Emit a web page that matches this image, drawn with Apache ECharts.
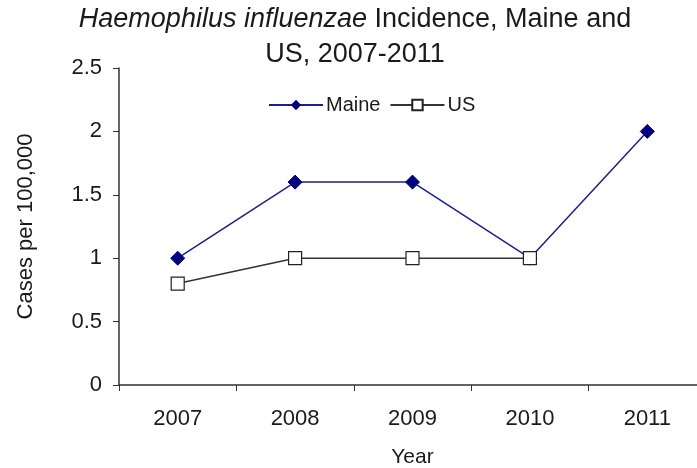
<!DOCTYPE html>
<html>
<head>
<meta charset="utf-8">
<script src="https://cdn.jsdelivr.net/npm/echarts@6/dist/echarts.min.js"></script>
<style>html,body{margin:0;padding:0;background:#fff}#chart{width:697px;height:468px}</style>
</head>
<body>
<div id="chart"></div>
<script>
// Haemophilus influenzae incidence, Maine vs US
// (plot runs past the right edge of the window, as in the original)
var years = ['2007', '2008', '2009', '2010', '2011'];
var maine = [1, 1.6, 1.6, 1, 2];
var us = [0.8, 1, 1, 1, null];

var chart = echarts.init(document.getElementById('chart'));
var option = {
    backgroundColor: '#fff',
    textStyle: {fontFamily: 'Liberation Sans, Arial, sans-serif'},
    title: {
        text: '{i|Haemophilus influenzae} Incidence, Maine and\nUS, 2007-2011',
        left: 350,
        textAlign: 'center',
        top: -3,
        textStyle: {
            fontSize: 27, fontWeight: 'normal', color: '#1a1a1a', lineHeight: 35,
            rich: {i: {fontStyle: 'italic', fontSize: 27, color: '#1a1a1a', lineHeight: 35}}
        }
    },
    legend: {
        top: 90,
        left: 263,
        itemWidth: 54,
        itemHeight: 13,
        itemGap: 9,
        textStyle: {fontSize: 20, color: '#1a1a1a', padding: [0, 0, 0, -2]},
        data: ['Maine', 'US']
    },
    grid: {left: 119, top: 68, width: 587, height: 317, outerBoundsMode: 'none'},
    xAxis: {
        type: 'category',
        data: years,
        boundaryGap: true,
        name: 'Year',
        nameLocation: 'middle',
        nameGap: 62,
        nameTextStyle: {fontSize: 21, color: '#1a1a1a'},
        axisLine: {lineStyle: {color: '#333', width: 1.5}},
        axisTick: {show: true, length: 6, lineStyle: {color: '#333'}},
        axisLabel: {fontSize: 22, color: '#1a1a1a', margin: 23}
    },
    yAxis: {
        type: 'value',
        min: 0, max: 2.5, interval: 0.5,
        name: 'Cases per 100,000',
        nameLocation: 'middle',
        nameGap: 82,
        nameTextStyle: {fontSize: 22, color: '#1a1a1a'},
        splitLine: {show: false},
        axisLine: {show: true, lineStyle: {color: '#333', width: 1.5}},
        axisTick: {show: true, length: 6, lineStyle: {color: '#333'}},
        axisLabel: {fontSize: 22, color: '#1a1a1a', margin: 17}
    },
    series: [
        {
            name: 'Maine', type: 'line', data: maine,
            symbol: 'diamond', symbolSize: 14,
            lineStyle: {color: '#1f1f8a', width: 1.5},
            itemStyle: {color: '#000080', borderColor: '#000080'}
        },
        {
            name: 'US', type: 'line', data: us,
            symbol: 'rect', symbolSize: 13, showAllSymbol: true,
            lineStyle: {color: '#333', width: 1.5},
            itemStyle: {color: '#fff', borderColor: '#222', borderWidth: 1.2}
        }
    ]
};
chart.setOption(option);
</script>
</body>
</html>
